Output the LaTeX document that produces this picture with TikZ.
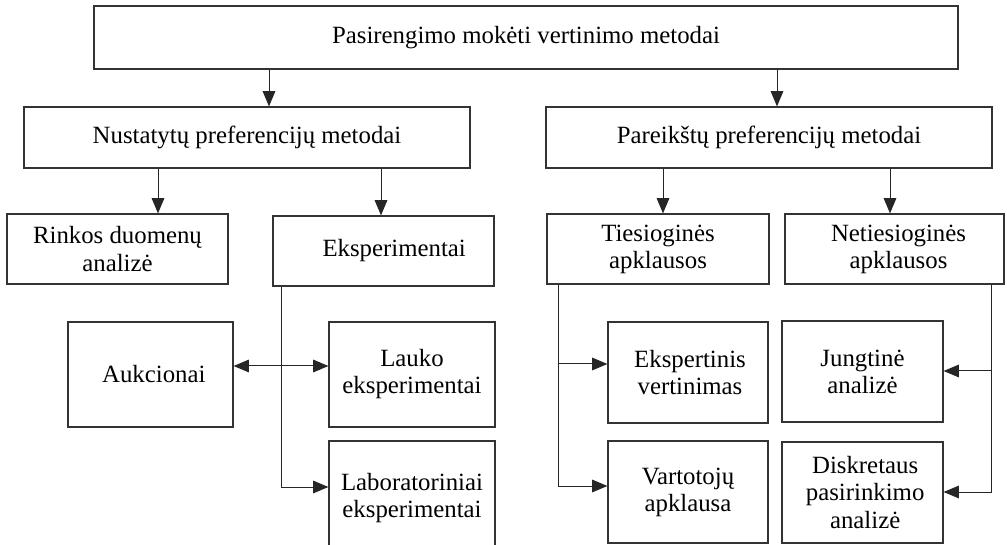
\documentclass[tikz,border=0pt]{standalone}
\usepackage{fontspec}
\setmainfont{Liberation Serif}
\usetikzlibrary{arrows.meta}
% box by its corners in pixel units: name, x1, y1, x2, y2, text
\newcommand\pixbox[6]{%
  \node[box, minimum width={(#4-#2)*0.75pt}, minimum height={(#5-#3)*0.75pt}]
    (#1) at ({(#2+#4)/2},{(#3+#5)/2}) {#6};}
\begin{document}
\begin{tikzpicture}[x=0.75pt,y=-0.75pt,
  box/.style={draw=black!80, line width=0.9pt, inner sep=0pt, align=center,
    font=\fontsize{18.6}{20.3}\selectfont},
  conn/.style={draw=black!85, line width=0.75pt},
  tip/.tip={Triangle[length=11.5pt,width=9.5pt]},
  arr/.style={conn, -tip},
  darr/.style={conn, tip-tip}]
\useasboundingbox (0,0) rectangle (1007,545);
\clip (0,0) rectangle (1007,545);

% boxes
\pixbox{top}{94}{6}{958}{69}{Pasirengimo mokėti vertinimo metodai}
\pixbox{nust}{24}{107}{470}{168}{Nustatytų preferencijų metodai}
\pixbox{pare}{546}{107}{992}{168}{Pareikštų preferencijų metodai}

\pixbox{rink}{7}{214}{228}{284}{Rinkos duomenų\\analizė}
\pixbox{eksp}{273}{216}{494}{286}{\hspace*{16pt}Eksperimentai}
\pixbox{auk}{68}{322}{233}{427}{\hspace*{5pt}Aukcionai}
\pixbox{lauk}{329}{322}{495}{427}{Lauko\\eksperimentai}
\pixbox{lab}{329}{441}{495}{556}{Laboratoriniai\\eksperimentai}

\pixbox{ties}{547}{214}{769}{284}{Tiesioginės\\apklausos}
\pixbox{nties}{785}{214}{1004}{284}{\hspace*{6pt}Netiesioginės\\\hspace*{6pt}apklausos}
\pixbox{eksv}{608}{322}{768}{423}{\hspace*{3pt}Ekspertinis\\\hspace*{3pt}vertinimas}
\pixbox{vart}{608}{441}{768}{543}{Vartotojų\\apklausa}
\pixbox{jung}{782}{321}{943}{422}{Jungtinė\\analizė}
\pixbox{disk}{782}{442}{943}{543}{\hspace*{4pt}Diskretaus\\\hspace*{4pt}pasirinkimo\\\hspace*{4pt}analizė}

% connector columns and branch levels
\coordinate (xa) at (269,0);
\coordinate (xb) at (777,0);
\coordinate (xc) at (158,0);
\coordinate (xd) at (381,0);
\coordinate (xe) at (663,0);
\coordinate (xf) at (890,0);
\coordinate (ekspdown) at (281,487);
\coordinate (aukl) at (0,366);
\coordinate (tiesup) at (558,364);
\coordinate (tiesdown) at (558,486);
\coordinate (ntiesup) at (991,371);
\coordinate (ntiesdown) at (991,492);

% connectors
\draw[arr] (xa |- top.south) -- (xa |- nust.north);
\draw[arr] (xb |- top.south) -- (xb |- pare.north);
\draw[arr] (xc |- nust.south) -- (xc |- rink.north);
\draw[arr] (xd |- nust.south) -- (xd |- eksp.north);
\draw[arr] (xe |- pare.south) -- (xe |- ties.north);
\draw[arr] (xf |- pare.south) -- (xf |- nties.north);

\draw[arr] (ekspdown |- eksp.south) -- (ekspdown) -- (lab.west |- ekspdown);
\draw[darr] (auk.east |- aukl) -- (lauk.west |- aukl);

\draw[arr] (tiesup |- ties.south) -- (tiesdown) -- (vart.west |- tiesdown);
\draw[arr] (tiesup) -- (eksv.west |- tiesup);

\draw[arr] (ntiesup |- nties.south) -- (ntiesdown) -- (disk.east |- ntiesdown);
\draw[arr] (ntiesup) -- (jung.east |- ntiesup);
\end{tikzpicture}
\end{document}
